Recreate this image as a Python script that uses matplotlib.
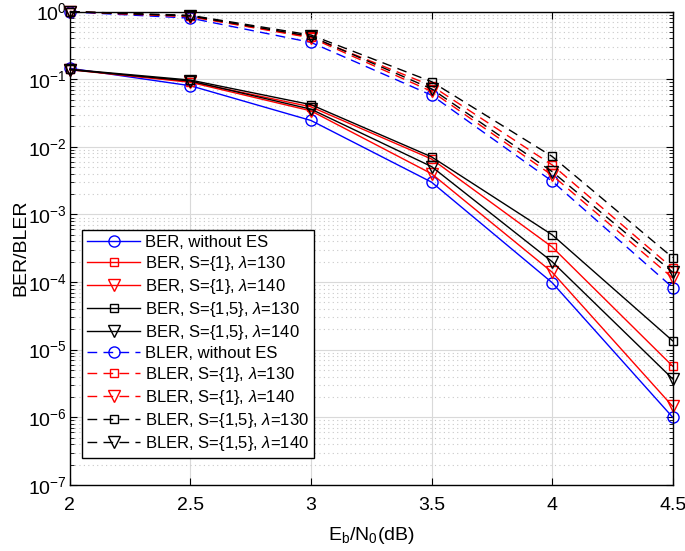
import numpy as np
import matplotlib
matplotlib.use("Agg")
import matplotlib.pyplot as plt
from matplotlib.ticker import FixedLocator, NullFormatter

plt.rcParams["font.family"] = ["Liberation Sans", "DejaVu Sans"]
plt.rcParams["mathtext.fontset"] = "custom"
plt.rcParams["mathtext.it"] = "Liberation Sans:italic"
plt.rcParams["mathtext.rm"] = "Liberation Sans"

ebn0 = [2, 2.5, 3, 3.5, 4, 4.5]

ber_no_es = [0.145, 0.080, 0.0245, 0.0030, 9.8e-5, 1.0e-6]
ber_s1_130 = [0.140, 0.092, 0.039, 0.0066, 3.3e-4, 5.7e-6]
ber_s1_140 = [0.138, 0.090, 0.034, 0.0040, 1.4e-4, 1.45e-6]
ber_s15_130 = [0.140, 0.097, 0.042, 0.0071, 5.0e-4, 1.35e-5]
ber_s15_140 = [0.138, 0.094, 0.036, 0.0051, 2.0e-4, 3.7e-6]

bler_no_es = [0.99, 0.80, 0.35, 0.058, 0.0031, 8.3e-5]
bler_s1_130 = [1.0, 0.85, 0.42, 0.080, 0.0054, 1.6e-4]
bler_s1_140 = [1.0, 0.84, 0.41, 0.066, 0.0038, 1.15e-4]
bler_s15_130 = [1.0, 0.88, 0.45, 0.092, 0.0072, 2.3e-4]
bler_s15_140 = [1.0, 0.86, 0.43, 0.072, 0.0043, 1.4e-4]

labels = [
    "BER, without ES",
    r"BER, S={1}, $\lambda$=130",
    r"BER, S={1}, $\lambda$=140",
    r"BER, S={1,5}, $\lambda$=130",
    r"BER, S={1,5}, $\lambda$=140",
    "BLER, without ES",
    r"BLER, S={1}, $\lambda$=130",
    r"BLER, S={1}, $\lambda$=140",
    r"BLER, S={1,5}, $\lambda$=130",
    r"BLER, S={1,5}, $\lambda$=140",
]

series = [ber_no_es, ber_s1_130, ber_s1_140, ber_s15_130, ber_s15_140,
          bler_no_es, bler_s1_130, bler_s1_140, bler_s15_130, bler_s15_140]
colors = ["b", "r", "r", "k", "k"] * 2
markers = ["o", "s", "v", "s", "v"] * 2
msizes = [8, 6, 8, 6, 8] * 2
styles = ["-"] * 5 + ["--"] * 5

fig = plt.figure(figsize=(6.85, 5.51), dpi=100)
ax = fig.add_axes([0.102, 0.120, 0.880, 0.859])

for y, c, m, ms, ls, lab in zip(series, colors, markers, msizes, styles, labels):
    ax.semilogy(ebn0, y, color=c, marker=m, markersize=ms, markerfacecolor="none",
                markeredgecolor=c, linestyle=ls, linewidth=1.0, label=lab,
                dashes=(7, 4.5) if ls == "--" else (None, None), clip_on=False)

ax.set_xlim(2, 4.5)
ax.set_ylim(1e-7, 1)
ax.set_xticks([2, 2.5, 3, 3.5, 4, 4.5])
ax.set_xticklabels(["2", "2.5", "3", "3.5", "4", "4.5"])
decades = [10.0 ** k for k in range(-7, 1)]
ax.yaxis.set_major_locator(FixedLocator(decades))
ax.yaxis.set_minor_locator(FixedLocator([s * d for d in decades[:-1] for s in range(2, 10)]))
ax.yaxis.set_minor_formatter(NullFormatter())

ax.grid(True, which="major", color="#d9d9d9", linestyle="-", linewidth=0.8)
ax.grid(True, which="minor", axis="y", color="#c8c8c8", linestyle=(0, (1, 3)), linewidth=0.8)
ax.set_axisbelow(True)

ax.tick_params(which="both", direction="in", top=True, right=True, labelsize=14)
ax.tick_params(which="major", length=5)
ax.tick_params(axis="x", which="major", pad=9)
ax.tick_params(axis="y", which="major", pad=2)
ax.tick_params(which="minor", length=3)
for s in ax.spines.values():
    s.set_linewidth(1.0)

ax.set_xlabel(r"E$_\mathregular{b}$/N$_\mathregular{0}$(dB)", fontsize=14, labelpad=8)
ax.set_ylabel("BER/BLER", fontsize=14)
ax.yaxis.set_label_coords(-0.068, 0.5)

leg = ax.legend(loc="lower left", bbox_to_anchor=(0.02, 0.057), fontsize=12,
                frameon=True, fancybox=False, edgecolor="k", framealpha=1,
                handlelength=3.2, labelspacing=0.24, borderpad=0.3, handletextpad=0.3,
                borderaxespad=0)
leg.get_frame().set_linewidth(1.0)

fig.savefig("out.png", dpi=100)
